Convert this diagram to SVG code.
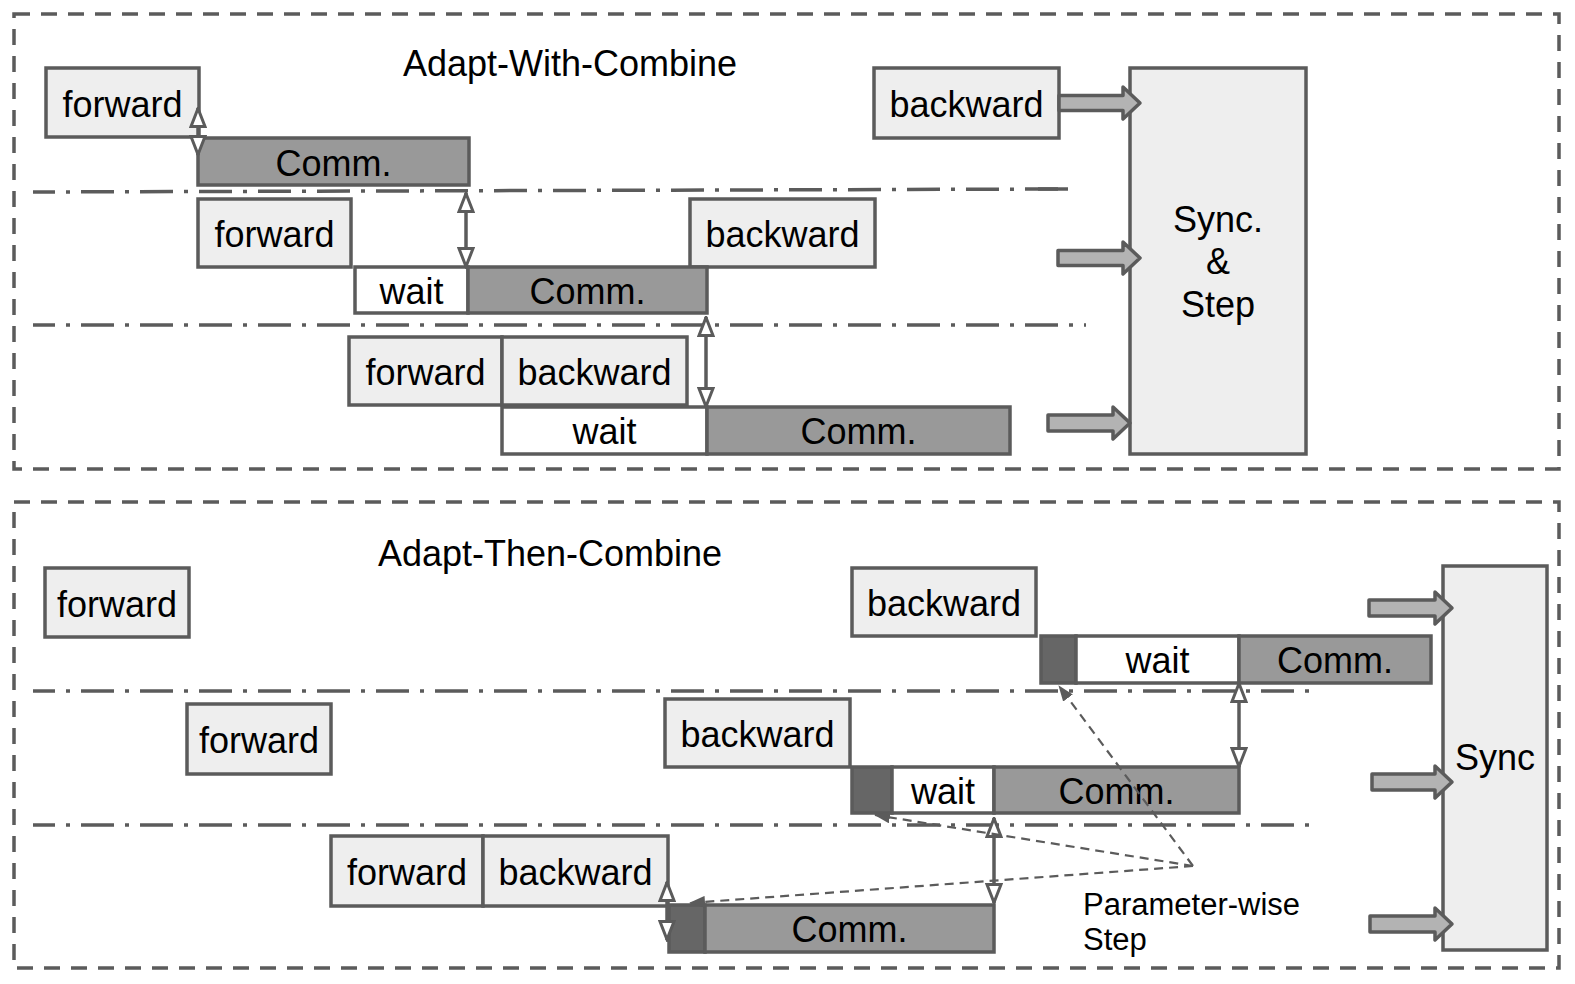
<svg xmlns="http://www.w3.org/2000/svg" width="1575" height="984" viewBox="0 0 1575 984">
<style>
text{font-family:"Liberation Sans",Arial,sans-serif;font-size:36px;fill:#000;text-anchor:middle}
.light{fill:#eeeeee;stroke:#5b5b5b;stroke-width:3.5}
.comm{fill:#999999;stroke:#5b5b5b;stroke-width:3.5}
.wait{fill:#ffffff;stroke:#5b5b5b;stroke-width:3.5}
.dark{fill:#666666;stroke:#5b5b5b;stroke-width:3.5}
.frame{fill:none;stroke:#5b5b5b;stroke-width:3.5;stroke-dasharray:16 11}
.sep{stroke:#5b5b5b;stroke-width:3.5;stroke-dasharray:33 11 4 11;stroke-dashoffset:11;fill:none}
.fat{fill:#b3b3b3;stroke:#5b5b5b;stroke-width:3.5;stroke-linejoin:round}
.dbl{stroke:#5b5b5b;stroke-width:3.5;fill:none;marker-start:url(#open);marker-end:url(#open)}
.dash{stroke:#5b5b5b;stroke-width:2.2;fill:none;stroke-dasharray:9 6;marker-end:url(#solid)}
.small{font-size:31px;text-anchor:start}
</style>
<defs>
<marker id="open" viewBox="0 0 22 18" refX="20.5" refY="9" markerWidth="22" markerHeight="18" markerUnits="userSpaceOnUse" orient="auto-start-reverse">
<path d="M2,2 L20,9 L2,16 Z" fill="#ffffff" stroke="#5b5b5b" stroke-width="3" stroke-linejoin="miter"/>
</marker>
<marker id="solid" viewBox="0 0 16 12" refX="15" refY="6" markerWidth="16" markerHeight="12" markerUnits="userSpaceOnUse" orient="auto">
<path d="M0,0 L16,6 L0,12 Z" fill="#5b5b5b"/>
</marker>
</defs>
<rect x="0" y="0" width="1575" height="984" fill="#ffffff"/>

<g id="frames">
<rect class="frame" x="14" y="14" width="1545" height="455"/>
<rect class="frame" x="14" y="502" width="1545" height="466"/>
</g>

<g id="separators">
<line class="sep" x1="33" y1="192" x2="1068" y2="189"/>
<line x1="1038" y1="189" x2="1068" y2="189" stroke="#5b5b5b" stroke-width="3.5"/>
<line class="sep" x1="33" y1="325" x2="1086" y2="325"/>
<line class="sep" x1="33" y1="691" x2="1319" y2="691"/>
<line class="sep" x1="33" y1="825" x2="1319" y2="825"/>
</g>

<g id="titles">
<text id="title-awc" x="570" y="76">Adapt-With-Combine</text>
<text id="title-atc" x="550" y="566">Adapt-Then-Combine</text>
</g>

<!-- Top section -->
<g id="t-r1-forward"><rect class="light" x="46" y="68" width="153" height="69"/><text x="122.5" y="117">forward</text></g>
<g id="t-r1-comm"><rect class="comm" x="198" y="138" width="271" height="47"/><text x="333.5" y="176">Comm.</text></g>
<g id="t-r1-backward"><rect class="light" x="874" y="68" width="185" height="70"/><text x="966.5" y="117">backward</text></g>

<g id="t-r2-forward"><rect class="light" x="198" y="199" width="153" height="68"/><text x="274.5" y="247">forward</text></g>
<g id="t-r2-backward"><rect class="light" x="690" y="199" width="185" height="68"/><text x="782.5" y="247">backward</text></g>
<g id="t-r2-wait"><rect class="wait" x="355" y="267" width="113" height="46"/><text x="411.5" y="304">wait</text></g>
<g id="t-r2-comm"><rect class="comm" x="468" y="267" width="239" height="46"/><text x="587.5" y="304">Comm.</text></g>

<g id="t-r3-forward"><rect class="light" x="349" y="337" width="153" height="68"/><text x="425.5" y="385">forward</text></g>
<g id="t-r3-backward"><rect class="light" x="502" y="337" width="185" height="68"/><text x="594.5" y="385">backward</text></g>
<g id="t-r3-wait"><rect class="wait" x="502" y="407" width="205" height="47"/><text x="604.5" y="444">wait</text></g>
<g id="t-r3-comm"><rect class="comm" x="707" y="407" width="303" height="47"/><text x="858.5" y="444">Comm.</text></g>

<g id="t-sync"><rect class="light" x="1130" y="68" width="176" height="386"/>
<text x="1218" y="232">Sync.</text><text x="1218" y="274">&amp;</text><text x="1218" y="317">Step</text></g>

<!-- Bottom section -->
<g id="b-r1-forward"><rect class="light" x="45" y="568" width="144" height="69"/><text x="117" y="617">forward</text></g>
<g id="b-r1-backward"><rect class="light" x="852" y="568" width="184" height="68"/><text x="944" y="616">backward</text></g>
<g id="b-r1-step"><rect class="dark" x="1041" y="636" width="35" height="47"/></g>
<g id="b-r1-wait"><rect class="wait" x="1076" y="636" width="163" height="47"/><text x="1157.5" y="673">wait</text></g>
<g id="b-r1-comm"><rect class="comm" x="1239" y="636" width="192" height="47"/><text x="1335" y="673">Comm.</text></g>

<g id="b-r2-forward"><rect class="light" x="187" y="704" width="144" height="70"/><text x="259" y="753">forward</text></g>
<g id="b-r2-backward"><rect class="light" x="665" y="699" width="185" height="68"/><text x="757.5" y="747">backward</text></g>
<g id="b-r2-step"><rect class="dark" x="852" y="767" width="40" height="46"/></g>
<g id="b-r2-wait"><rect class="wait" x="892" y="767" width="102" height="46"/><text x="943" y="804">wait</text></g>
<g id="b-r2-comm"><rect class="comm" x="994" y="767" width="245" height="46"/><text x="1116.5" y="804">Comm.</text></g>

<g id="b-r3-forward"><rect class="light" x="331" y="836" width="152" height="70"/><text x="407" y="885">forward</text></g>
<g id="b-r3-backward"><rect class="light" x="483" y="836" width="185" height="70"/><text x="575.5" y="885">backward</text></g>
<g id="b-r3-step"><rect class="dark" x="669" y="905" width="36" height="47"/></g>
<g id="b-r3-comm"><rect class="comm" x="705" y="905" width="289" height="47"/><text x="849.5" y="942">Comm.</text></g>

<g id="b-sync"><rect class="light" x="1443" y="566" width="104" height="384"/><text x="1495" y="770">Sync</text></g>

<g id="b-label"><text class="small" x="1083" y="915">Parameter-wise</text><text class="small" x="1083" y="950">Step</text></g>

<g id="connectors">
<path class="fat" d="M1059,95.5 H1123 V87 L1140,103 L1123,119 V110.5 H1059 Z"/>
<path class="fat" d="M1058,250.5 H1123 V242 L1140,258 L1123,274 V265.5 H1058 Z"/>
<path class="fat" d="M1048,415 H1113 V407 L1130,423 L1113,439 V431 H1048 Z"/>
<path class="fat" d="M1369,600 H1435 V592 L1452,608 L1435,624 V616 H1369 Z"/>
<path class="fat" d="M1372,774 H1435 V766 L1452,782 L1435,798 V790 H1372 Z"/>
<path class="fat" d="M1370,916 H1435 V908 L1452,924 L1435,940 V932 H1370 Z"/>
<line class="dbl" x1="198" y1="108" x2="198" y2="155"/>
<line class="dbl" x1="466" y1="193" x2="466" y2="267"/>
<line class="dbl" x1="706" y1="317" x2="706" y2="407"/>
<line class="dbl" x1="1239" y1="683" x2="1239" y2="767"/>
<line class="dbl" x1="994" y1="818" x2="994" y2="903"/>
<line class="dbl" x1="667" y1="882" x2="667" y2="940"/>
<line class="dash" x1="1193" y1="866" x2="1059" y2="686"/>
<line class="dash" x1="1193" y1="866" x2="875" y2="815"/>
<line class="dash" x1="1193" y1="866" x2="690" y2="903"/>
</g>
</svg>
